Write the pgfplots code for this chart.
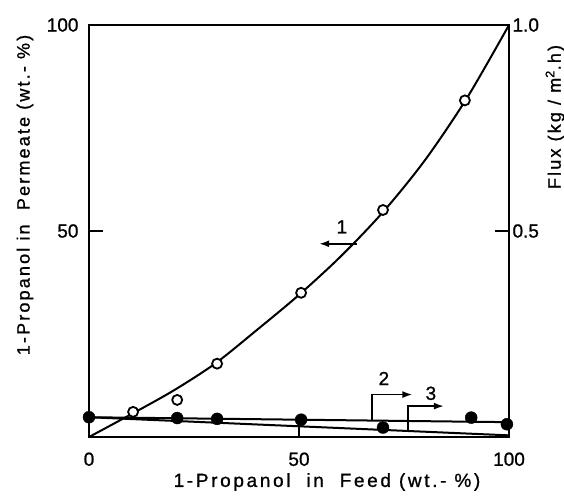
\documentclass[border=0pt]{standalone}
\usepackage{fontspec}
\setmainfont{Liberation Sans}[FakeBold=1]
\newfontfamily\lbl{Liberation Sans}[LetterSpace=14, FakeBold=1]
\newfontfamily\lbly{Liberation Sans}[LetterSpace=12, FakeBold=1]
\usepackage{pgfplots}
\pgfplotsset{compat=1.18}
\usetikzlibrary{arrows.meta}
\begin{document}
\fontsize{19}{22}\selectfont
\begin{tikzpicture}
\useasboundingbox (-89pt,-58pt) rectangle (475pt,437pt);
\begin{axis}[
  at={(0pt,0pt)}, anchor=south west, scale only axis,
  width=420pt, height=412pt,
  xmin=0, xmax=100, ymin=0, ymax=100,
  xtick={0,50,100}, xticklabels={0,50,100},
  ytick={50,100}, yticklabels={50,100},
  xtick pos=bottom, ytick pos=left,
  tick align=inside, major tick length=14pt,
  axis line style={line width=2pt},
  tick style={line width=2pt, black},
  ticklabel style={font=\fontsize{19}{21}\selectfont},
  xticklabel style={yshift=-9pt},
  yticklabel style={xshift=-4pt},
  clip=false,
]
\addplot[smooth, line width=2pt] coordinates {
  (0,0) (10,5.5) (20,11.2) (30,17.8) (40,26.0) (50,34.5) (60,43.9)
  (70,54.6) (80,67.2) (90,82.3) (100,100)};
\addplot[only marks, mark=*, mark size=5pt, mark options={fill=white, draw=black, line width=1.8pt}]
  coordinates {(10.5,6.1) (21,9.0) (30.5,17.8) (50.5,35.0) (70,55.1) (89.5,81.7)};
% annotations
\draw[-{Latex[length=10pt,width=7pt]}, line width=1.8pt] (axis cs:63.8,46.9) -- (axis cs:54.8,46.9);
\node at (axis cs:60.2,51.0) {1};
\draw[-{Latex[length=10pt,width=7pt]}, line width=1.8pt] (axis cs:67.4,4.0) -- (axis cs:67.4,10.3) -- (axis cs:77,10.3);
\node at (axis cs:70.2,14.2) {2};
\draw[-{Latex[length=10pt,width=7pt]}, line width=1.8pt] (axis cs:76,1.4) -- (axis cs:76,7.5) -- (axis cs:84.5,7.5);
\node at (axis cs:81.4,10.6) {3};
\end{axis}
\begin{axis}[
  at={(0pt,0pt)}, anchor=south west, scale only axis,
  width=420pt, height=412pt,
  xmin=0, xmax=100, ymin=0, ymax=1,
  axis x line=none, axis y line*=right,
  ytick={0.5,1}, yticklabels={0.5,1.0},
  tick align=inside, major tick length=14pt,
  axis line style={line width=2pt},
  tick style={line width=2pt, black},
  ticklabel style={font=\fontsize{19}{21}\selectfont},
  yticklabel style={xshift=-3pt},
  clip=false,
]
\addplot[line width=2pt] coordinates {(0,0.048) (100,0.036)};
\addplot[line width=2pt] coordinates {(0,0.048) (100,0.004)};
\addplot[only marks, mark=*, mark size=6pt] coordinates {
  (0,0.048) (21,0.046) (30.5,0.044) (50.5,0.042) (70,0.023) (91,0.047) (99.5,0.031)};
\end{axis}
\node at (238pt,-45pt) {\lbl 1-Propanol\ \ in\ \ Feed\ (wt.-\ \%)};
\node[rotate=90] at (-64pt,242pt) {\fontsize{18}{21}\lbly 1-Propanol in\ \ Permeate (wt.-\ \%)};
\node[rotate=90] at (466pt,320pt) {\fontsize{18}{21}\lbly Flux (kg / m\textsuperscript{2}.h)};
\end{tikzpicture}
\end{document}
